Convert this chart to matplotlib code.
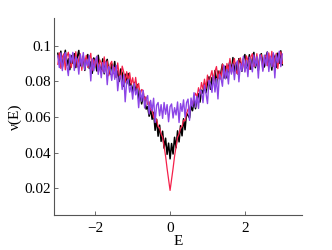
"""
Densidade de estados nu(E) -- três curvas ruidosas (vermelho, preto, roxo)
"""

import numpy as np
import matplotlib
matplotlib.use("Agg")
import matplotlib.pyplot as plt

# energia: 151 pontos de -3 a 3
E = np.linspace(-3, 3, 151)

# valores
nu_preto = [
    0.0957, 0.0901, 0.0969, 0.0879, 0.0932, 0.0974, 0.0889, 0.0926, 0.0865, 0.0944,
    0.0901, 0.0955, 0.0877, 0.0936, 0.0973, 0.0887, 0.0906, 0.0942, 0.0861, 0.0925,
    0.0950, 0.0872, 0.0909, 0.0845, 0.0931, 0.0915, 0.0858, 0.0946, 0.0882, 0.0864,
    0.0926, 0.0842, 0.0904, 0.0923, 0.0860, 0.0840, 0.0898, 0.0856, 0.0911, 0.0823,
    0.0858, 0.0799, 0.0869, 0.0846, 0.0772, 0.0840, 0.0785, 0.0844, 0.0776, 0.0788,
    0.0737, 0.0794, 0.0743, 0.0782, 0.0702, 0.0733, 0.0673, 0.0714, 0.0713, 0.0644,
    0.0658, 0.0604, 0.0643, 0.0587, 0.0626, 0.0525, 0.0587, 0.0492, 0.0554, 0.0463,
    0.0520, 0.0425, 0.0481, 0.0390, 0.0453, 0.0365, 0.0451, 0.0392, 0.0486, 0.0427,
    0.0522, 0.0460, 0.0551, 0.0494, 0.0590, 0.0528, 0.0621, 0.0607, 0.0594, 0.0662,
    0.0635, 0.0694, 0.0646, 0.0704, 0.0730, 0.0683, 0.0750, 0.0732, 0.0791, 0.0736,
    0.0790, 0.0825, 0.0755, 0.0821, 0.0799, 0.0860, 0.0782, 0.0858, 0.0815, 0.0851,
    0.0896, 0.0818, 0.0884, 0.0819, 0.0875, 0.0913, 0.0856, 0.0933, 0.0854, 0.0902,
    0.0842, 0.0927, 0.0906, 0.0856, 0.0926, 0.0950, 0.0876, 0.0893, 0.0949, 0.0867,
    0.0926, 0.0962, 0.0876, 0.0917, 0.0861, 0.0942, 0.0955, 0.0896, 0.0880, 0.0940,
    0.0964, 0.0889, 0.0932, 0.0863, 0.0951, 0.0929, 0.0878, 0.0958, 0.0901, 0.0971,
    0.0892,
]

nu_vermelho = [
    0.0895, 0.0960, 0.0872, 0.0937, 0.0954, 0.0864, 0.0940, 0.0963, 0.0903, 0.0877,
    0.0947, 0.0896, 0.0966, 0.0880, 0.0924, 0.0954, 0.0861, 0.0938, 0.0901, 0.0946,
    0.0877, 0.0921, 0.0957, 0.0862, 0.0923, 0.0884, 0.0940, 0.0853, 0.0921, 0.0902,
    0.0857, 0.0937, 0.0864, 0.0914, 0.0831, 0.0896, 0.0912, 0.0842, 0.0878, 0.0822,
    0.0903, 0.0833, 0.0813, 0.0885, 0.0853, 0.0795, 0.0854, 0.0808, 0.0848, 0.0782,
    0.0820, 0.0762, 0.0822, 0.0756, 0.0788, 0.0724, 0.0754, 0.0748, 0.0693, 0.0711,
    0.0670, 0.0685, 0.0639, 0.0642, 0.0596, 0.0598, 0.0582, 0.0546, 0.0539, 0.0505,
    0.0486, 0.0435, 0.0380, 0.0311, 0.0249, 0.0188, 0.0249, 0.0311, 0.0380, 0.0435,
    0.0486, 0.0504, 0.0538, 0.0546, 0.0582, 0.0578, 0.0618, 0.0644, 0.0639, 0.0682,
    0.0667, 0.0711, 0.0733, 0.0711, 0.0764, 0.0730, 0.0793, 0.0756, 0.0812, 0.0760,
    0.0835, 0.0782, 0.0828, 0.0860, 0.0788, 0.0855, 0.0883, 0.0813, 0.0858, 0.0811,
    0.0896, 0.0882, 0.0821, 0.0900, 0.0859, 0.0928, 0.0846, 0.0896, 0.0928, 0.0861,
    0.0842, 0.0919, 0.0931, 0.0878, 0.0908, 0.0857, 0.0943, 0.0919, 0.0867, 0.0936,
    0.0955, 0.0883, 0.0899, 0.0955, 0.0871, 0.0932, 0.0949, 0.0863, 0.0934, 0.0944,
    0.0887, 0.0959, 0.0903, 0.0968, 0.0883, 0.0929, 0.0957, 0.0871, 0.0942, 0.0965,
    0.0900,
]

nu_roxo = [
    0.0943, 0.0877, 0.0959, 0.0860, 0.0935, 0.0961, 0.0888, 0.0832, 0.0951, 0.0905,
    0.0962, 0.0861, 0.0937, 0.0921, 0.0840, 0.0950, 0.0883, 0.0961, 0.0865, 0.0921,
    0.0886, 0.0944, 0.0802, 0.0926, 0.0859, 0.0914, 0.0940, 0.0839, 0.0893, 0.0820,
    0.0905, 0.0847, 0.0909, 0.0781, 0.0883, 0.0867, 0.0805, 0.0886, 0.0811, 0.0889,
    0.0747, 0.0825, 0.0831, 0.0754, 0.0835, 0.0685, 0.0799, 0.0811, 0.0739, 0.0776,
    0.0700, 0.0789, 0.0724, 0.0758, 0.0652, 0.0749, 0.0688, 0.0749, 0.0650, 0.0698,
    0.0720, 0.0616, 0.0693, 0.0635, 0.0705, 0.0569, 0.0666, 0.0681, 0.0607, 0.0669,
    0.0592, 0.0681, 0.0615, 0.0669, 0.0573, 0.0658, 0.0673, 0.0594, 0.0652, 0.0611,
    0.0684, 0.0569, 0.0675, 0.0631, 0.0696, 0.0599, 0.0680, 0.0700, 0.0581, 0.0706,
    0.0657, 0.0736, 0.0655, 0.0716, 0.0648, 0.0752, 0.0744, 0.0680, 0.0779, 0.0732,
    0.0675, 0.0806, 0.0785, 0.0738, 0.0829, 0.0740, 0.0815, 0.0701, 0.0839, 0.0819,
    0.0772, 0.0889, 0.0813, 0.0866, 0.0785, 0.0897, 0.0840, 0.0896, 0.0809, 0.0895,
    0.0915, 0.0797, 0.0900, 0.0857, 0.0940, 0.0852, 0.0916, 0.0826, 0.0935, 0.0909,
    0.0853, 0.0948, 0.0885, 0.0938, 0.0818, 0.0950, 0.0928, 0.0856, 0.0947, 0.0888,
    0.0964, 0.0855, 0.0941, 0.0882, 0.0960, 0.0819, 0.0948, 0.0905, 0.0969, 0.0882,
    0.0953,
]

xticks = [-2, 0, 2]
yticks = [0.02, 0.04, 0.06, 0.08, 0.1]

plt.rcParams['font.family'] = ['Liberation Serif', 'DejaVu Serif']
plt.rcParams['axes.unicode_minus'] = True

fig = plt.figure(figsize=(3.32, 2.5), dpi=100)
ax = fig.add_axes([0.163, 0.14, 0.747, 0.788])

# ordem: preto, vermelho, roxo por cima
ax.plot(E, nu_preto, color='black', lw=1.1)
ax.plot(E, nu_vermelho, color='#f5204a', lw=0.9)
ax.plot(E, nu_roxo, color='#8c45e6', lw=1.0)

ax.set_xlim(-3.1, 3.53)
ax.set_ylim(0.005, 0.1155)
ax.set_xticks(xticks)
ax.set_yticks(yticks)
ax.set_yticklabels(['0.02', '0.04', '0.06', '0.08', '0.1'])

# estilo matlab: só eixos esquerdo e inferior, ticks para dentro
for s in ['top', 'right']:
    ax.spines[s].set_visible(False)
for s in ['left', 'bottom']:
    ax.spines[s].set_color('#555555')
    ax.spines[s].set_linewidth(0.8)
ax.tick_params(direction='in', length=3, width=0.6, colors='#555555',
               labelcolor='black', labelsize=11)
ax.tick_params(axis='y', pad=2)
ax.tick_params(axis='x', pad=5)

ax.set_xlabel('E', fontsize=11, labelpad=0)
ax.set_ylabel('ν(E)', fontsize=11, labelpad=2)

fig.savefig('out.png', dpi=100)
plt.close(fig)
print("ok: out.png")
